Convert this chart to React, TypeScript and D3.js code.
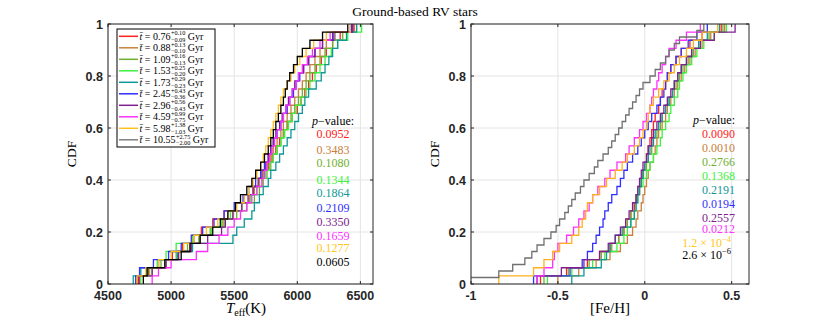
import { useEffect, useRef } from 'react'
import * as d3 from 'd3'

const W = 830
const H = 323

const AGE_MEAN = ['0.76', '0.88', '1.09', '1.53', '1.73', '2.45', '2.96', '4.59', '5.98', '10.55']
const AGE_UP = ['+0.10', '+0.13', '+0.16', '+0.25', '+0.29', '+0.43', '+0.56', '+0.99', '+1.38', '+2.75']
const AGE_DOWN = ['\u22120.09', '\u22120.10', '\u22120.13', '\u22120.20', '\u22120.23', '\u22120.36', '\u22120.43', '\u22120.75', '\u22121.03', '\u22122.00']

const COLORS = ['#ff2020', '#c8803a', '#70b030', '#40f040', '#109898', '#3030ff', '#802090', '#ff30ff', '#ffc020', '#808080']
const TEFF_COLORS = [...COLORS.slice(0, 9), '#000000']
const FEH_COLORS = [...COLORS.slice(0, 8), '#ffb020', '#707070']
const PV_COLORS = [...COLORS.slice(0, 8), '#ffc820', '#000000']

const CDF_TICKS = [0, 0.2, 0.4, 0.6, 0.8, 1]
const TEFF_TICKS = [4500, 5000, 5500, 6000, 6500]
const FEH_TICKS = [-1, -0.5, 0, 0.5]

const TEFF_PVALUES = ['0.0952', '0.3483', '0.1080', '0.1344', '0.1864', '0.2109', '0.3350', '0.1659', '0.1277', '0.0605']
const FEH_PVALUES = ['0.0090', '0.0010', '0.2766', '0.1368', '0.2191', '0.0194', '0.2557', '0.0212', '1.2 \u00d7 10', '2.6 \u00d7 10']
const FEH_PV_EXP = ['', '', '', '', '', '', '', '', '\u22124', '\u22126']

// sorted Teff samples per age bin
const TEFF_SERIES = [
  [4750, 4820, 4900, 5010, 5090, 5180, 5240, 5330, 5420, 5510, 5580, 5650, 5700, 5740, 5770, 5800, 5830, 5860, 5890, 5920, 5960, 6000, 6030, 6060, 6090, 6120, 6150, 6190, 6230, 6280, 6340, 6450],
  [4730, 4850, 4960, 5050, 5150, 5230, 5320, 5410, 5490, 5560, 5620, 5660, 5700, 5730, 5760, 5790, 5810, 5840, 5870, 5890, 5920, 5950, 5980, 6010, 6040, 6070, 6100, 6140, 6180, 6230, 6300, 6440],
  [4720, 4810, 4920, 5040, 5130, 5220, 5310, 5420, 5520, 5600, 5660, 5700, 5730, 5760, 5790, 5810, 5840, 5870, 5890, 5920, 5950, 5980, 6010, 6040, 6070, 6100, 6140, 6180, 6220, 6280, 6360, 6470],
  [4760, 4830, 4890, 4960, 5040, 5170, 5320, 5400, 5470, 5560, 5630, 5680, 5720, 5750, 5780, 5810, 5840, 5870, 5900, 5930, 5960, 5990, 6030, 6070, 6100, 6140, 6180, 6220, 6270, 6320, 6400, 6510],
  [4700, 4760, 4900, 5050, 5170, 5490, 5520, 5580, 5640, 5660, 5700, 5730, 5770, 5790, 5830, 5860, 5890, 5920, 5950, 5980, 6010, 6040, 6060, 6090, 6150, 6190, 6220, 6250, 6280, 6320, 6390, 6470],
  [4720, 4750, 4860, 4980, 5080, 5160, 5250, 5340, 5420, 5500, 5570, 5620, 5670, 5710, 5740, 5770, 5790, 5810, 5840, 5870, 5890, 5920, 5940, 5970, 5990, 6020, 6050, 6090, 6140, 6200, 6290, 6430],
  [4740, 4850, 4960, 5060, 5160, 5290, 5400, 5430, 5490, 5560, 5610, 5650, 5690, 5720, 5750, 5770, 5790, 5810, 5830, 5860, 5880, 5910, 5930, 5960, 5980, 6010, 6050, 6090, 6140, 6200, 6280, 6440],
  [4850, 4900, 5000, 5200, 5290, 5380, 5450, 5500, 5550, 5600, 5640, 5680, 5720, 5740, 5760, 5780, 5800, 5820, 5840, 5870, 5890, 5910, 5940, 5960, 5990, 6010, 6040, 6080, 6120, 6180, 6260, 6420],
  [4730, 4800, 4900, 5000, 5100, 5180, 5280, 5370, 5450, 5520, 5580, 5620, 5650, 5680, 5710, 5730, 5750, 5770, 5790, 5810, 5830, 5850, 5870, 5890, 5920, 5950, 5980, 6020, 6070, 6130, 6230, 6420],
  [4780, 4810, 4950, 5080, 5150, 5230, 5330, 5390, 5450, 5510, 5550, 5600, 5640, 5670, 5710, 5740, 5770, 5790, 5810, 5830, 5850, 5870, 5890, 5905, 5920, 5940, 5970, 6000, 6040, 6100, 6200, 6400],
]

// sorted [Fe/H] samples per age bin
const FEH_SERIES = [
  [-0.60, -0.45, -0.33, -0.26, -0.20, -0.15, -0.12, -0.10, -0.08, -0.06, -0.05, -0.03, -0.02, -0.01, 0.00, 0.01, 0.02, 0.03, 0.04, 0.05, 0.06, 0.08, 0.09, 0.10, 0.12, 0.13, 0.15, 0.18, 0.21, 0.26, 0.33, 0.44],
  [-0.50, -0.38, -0.28, -0.20, -0.14, -0.10, -0.07, -0.05, -0.04, -0.02, -0.01, 0.00, 0.01, 0.02, 0.03, 0.05, 0.06, 0.07, 0.08, 0.10, 0.12, 0.13, 0.15, 0.17, 0.19, 0.21, 0.23, 0.26, 0.29, 0.33, 0.38, 0.46],
  [-0.58, -0.44, -0.32, -0.25, -0.19, -0.15, -0.12, -0.10, -0.08, -0.07, -0.05, -0.04, -0.02, -0.01, 0.01, 0.02, 0.04, 0.05, 0.07, 0.09, 0.10, 0.12, 0.14, 0.16, 0.18, 0.20, 0.22, 0.25, 0.28, 0.32, 0.37, 0.45],
  [-0.56, -0.42, -0.30, -0.23, -0.16, -0.12, -0.10, -0.08, -0.06, -0.05, -0.04, -0.03, -0.01, 0.01, 0.03, 0.05, 0.07, 0.09, 0.10, 0.12, 0.14, 0.15, 0.17, 0.19, 0.20, 0.22, 0.24, 0.27, 0.30, 0.34, 0.40, 0.47],
  [-0.42, -0.35, -0.25, -0.22, -0.20, -0.17, -0.13, -0.08, -0.06, -0.05, -0.04, -0.03, -0.02, -0.01, 0.00, 0.02, 0.03, 0.05, 0.06, 0.08, 0.10, 0.12, 0.14, 0.16, 0.17, 0.19, 0.21, 0.24, 0.27, 0.31, 0.36, 0.43],
  [-0.64, -0.43, -0.36, -0.33, -0.30, -0.28, -0.26, -0.24, -0.23, -0.21, -0.19, -0.16, -0.14, -0.12, -0.10, -0.07, -0.04, -0.02, 0.00, 0.02, 0.04, 0.07, 0.09, 0.11, 0.12, 0.13, 0.15, 0.18, 0.21, 0.25, 0.30, 0.36],
  [-0.62, -0.48, -0.35, -0.26, -0.21, -0.17, -0.14, -0.11, -0.09, -0.07, -0.05, -0.04, -0.03, -0.02, -0.01, 0.01, 0.02, 0.04, 0.05, 0.07, 0.09, 0.11, 0.13, 0.15, 0.17, 0.19, 0.21, 0.24, 0.27, 0.32, 0.40, 0.52],
  [-0.62, -0.58, -0.53, -0.52, -0.50, -0.45, -0.41, -0.38, -0.35, -0.32, -0.30, -0.27, -0.23, -0.20, -0.16, -0.11, -0.09, -0.06, -0.03, -0.01, 0.01, 0.03, 0.04, 0.05, 0.07, 0.08, 0.10, 0.12, 0.14, 0.18, 0.24, 0.32],
  [-0.84, -0.64, -0.58, -0.53, -0.49, -0.42, -0.38, -0.36, -0.34, -0.33, -0.30, -0.26, -0.22, -0.17, -0.13, -0.10, -0.06, -0.03, -0.01, 0.01, 0.02, 0.03, 0.05, 0.08, 0.11, 0.14, 0.17, 0.20, 0.24, 0.28, 0.33, 0.42],
  [-1.05, -0.84, -0.76, -0.69, -0.65, -0.62, -0.58, -0.54, -0.51, -0.49, -0.46, -0.44, -0.42, -0.40, -0.37, -0.35, -0.32, -0.29, -0.27, -0.24, -0.21, -0.19, -0.17, -0.15, -0.13, -0.11, -0.09, -0.07, -0.05, -0.03, -0.01, 0.03, 0.06, 0.09, 0.12, 0.14, 0.17, 0.20, 0.30, 0.34],
]

const SERIF = '"Liberation Serif", "Times New Roman", serif'
const SANS = '"Liberation Sans", Arial, sans-serif'

type Panel = {
  id: string
  left: number
  right: number
  domain: [number, number]
  ticks: number[]
  series: number[][]
  colors: string[]
}

const TOP = 24
const BOTTOM = 284

function drawPanel(svg: d3.Selection<SVGSVGElement, unknown, null, undefined>, p: Panel) {
  const x = d3.scaleLinear().domain(p.domain).range([p.left, p.right])
  const y = d3.scaleLinear().domain([0, 1]).range([BOTTOM, TOP])

  svg.append('rect')
    .attr('x', p.left).attr('y', TOP)
    .attr('width', p.right - p.left).attr('height', BOTTOM - TOP)
    .attr('fill', '#fff')

  // grid
  const grid = svg.append('g').attr('stroke', '#e4e4e4').attr('stroke-width', 1)
  p.ticks.forEach((t) => {
    grid.append('line').attr('x1', x(t)).attr('x2', x(t)).attr('y1', TOP).attr('y2', BOTTOM)
  })
  CDF_TICKS.forEach((t) => {
    grid.append('line').attr('x1', p.left).attr('x2', p.right).attr('y1', y(t)).attr('y2', y(t))
  })

  svg.append('clipPath').attr('id', p.id)
    .append('rect')
    .attr('x', p.left).attr('y', TOP - 2)
    .attr('width', p.right - p.left).attr('height', BOTTOM - TOP + 2)

  const line = d3.line<[number, number]>()
    .x((d) => x(d[0]))
    .y((d) => y(d[1]))
    .curve(d3.curveStepAfter)

  const lines = svg.append('g').attr('clip-path', `url(#${p.id})`)
  p.series.forEach((vals, i) => {
    const n = vals.length
    const pts: [number, number][] = [[vals[0], 0], ...vals.map((v, k) => [v, (k + 1) / n] as [number, number])]
    lines.append('path')
      .attr('d', line(pts))
      .attr('fill', 'none')
      .attr('stroke', p.colors[i])
      .attr('stroke-width', 1.3)
  })

  // box + ticks
  svg.append('rect')
    .attr('x', p.left).attr('y', TOP)
    .attr('width', p.right - p.left).attr('height', BOTTOM - TOP)
    .attr('fill', 'none').attr('stroke', '#262626').attr('stroke-width', 1)

  const tk = svg.append('g').attr('stroke', '#262626').attr('stroke-width', 1)
  p.ticks.forEach((t) => {
    tk.append('line').attr('x1', x(t)).attr('x2', x(t)).attr('y1', BOTTOM).attr('y2', BOTTOM - 3)
    tk.append('line').attr('x1', x(t)).attr('x2', x(t)).attr('y1', TOP).attr('y2', TOP + 3)
  })
  CDF_TICKS.forEach((t) => {
    tk.append('line').attr('x1', p.left).attr('x2', p.left + 3).attr('y1', y(t)).attr('y2', y(t))
    tk.append('line').attr('x1', p.right).attr('x2', p.right - 3).attr('y1', y(t)).attr('y2', y(t))
  })

  const labels = svg.append('g')
    .attr('font-family', SANS).attr('font-weight', 'bold').attr('font-size', 12.5).attr('fill', '#262626')
  p.ticks.forEach((t) => {
    labels.append('text')
      .attr('x', x(t)).attr('y', BOTTOM + 16)
      .attr('text-anchor', 'middle')
      .text(String(t))
  })
  CDF_TICKS.forEach((t) => {
    labels.append('text')
      .attr('x', p.left - 5).attr('y', y(t))
      .attr('dy', '0.36em')
      .attr('text-anchor', 'end')
      .text(String(t))
  })

  svg.append('text')
    .attr('transform', `translate(${p.left - 32},${(TOP + BOTTOM) / 2}) rotate(-90)`)
    .attr('text-anchor', 'middle')
    .attr('font-family', SERIF).attr('font-size', 13.5)
    .text('CDF')

  return { x, y }
}

export default function App() {
  const svgRef = useRef<SVGSVGElement>(null)

  useEffect(() => {
    if (!svgRef.current) return
    const svg = d3.select(svgRef.current)
    svg.selectAll('*').remove()

    svg.append('text')
      .attr('x', 415).attr('y', 16)
      .attr('text-anchor', 'middle')
      .attr('font-family', SERIF).attr('font-size', 13.5)
      .text('Ground-based RV stars')

    drawPanel(svg, {
      id: 'clip-teff', left: 108, right: 373, domain: [4500, 6600],
      ticks: TEFF_TICKS, series: TEFF_SERIES, colors: TEFF_COLORS,
    })
    drawPanel(svg, {
      id: 'clip-feh', left: 471, right: 749, domain: [-1, 0.6],
      ticks: FEH_TICKS, series: FEH_SERIES, colors: FEH_COLORS,
    })

    // x labels
    const tx = svg.append('text')
      .attr('x', 246).attr('y', 313)
      .attr('text-anchor', 'middle')
      .attr('font-family', SERIF).attr('font-size', 15)
    tx.append('tspan').attr('font-style', 'italic').text('T')
    tx.append('tspan').attr('font-size', 10).attr('dy', 3).text('eff')
    tx.append('tspan').attr('dy', -3).text('(K)')

    svg.append('text')
      .attr('x', 610).attr('y', 313)
      .attr('text-anchor', 'middle')
      .attr('font-family', SERIF).attr('font-size', 15)
      .text('[Fe/H]')

    // p-values, left panel
    const pvL = svg.append('g').attr('font-family', SERIF).attr('font-size', 12).attr('text-anchor', 'middle')
    const hL = pvL.append('text').attr('x', 333).attr('y', 125)
    hL.append('tspan').attr('font-style', 'italic').text('p')
    hL.append('tspan').text('\u2212value:')
    const leftY = [138, 154, 167, 184, 197, 212, 226, 240, 252, 266]
    TEFF_PVALUES.forEach((v, i) => {
      pvL.append('text').attr('x', 333).attr('y', leftY[i]).attr('fill', PV_COLORS[i]).text(v)
    })

    // p-values, right panel
    const pvR = svg.append('g').attr('font-family', SERIF).attr('font-size', 12).attr('text-anchor', 'end')
    const hR = pvR.append('text').attr('x', 735).attr('y', 124)
    hR.append('tspan').attr('font-style', 'italic').text('p')
    hR.append('tspan').text('\u2212value:')
    const rightY = [138, 152, 166, 180, 194, 208, 222, 233, 247, 259]
    FEH_PVALUES.forEach((v, i) => {
      const t = pvR.append('text').attr('x', FEH_PV_EXP[i] ? 731 : 735).attr('y', rightY[i]).attr('fill', PV_COLORS[i])
      t.append('tspan').text(v)
      if (FEH_PV_EXP[i]) {
        t.append('tspan').attr('font-size', 8.5).attr('dy', -5).text(FEH_PV_EXP[i])
      }
    })

    // legend: one text element per row, scripts stacked with tspans
    const lg = svg.append('g')
    lg.append('rect')
      .attr('x', 117).attr('y', 29).attr('width', 98).attr('height', 118)
      .attr('fill', '#fff').attr('stroke', '#000').attr('stroke-width', 1)
    AGE_MEAN.forEach((m, i) => {
      const cy = 36.3 + i * 11.5
      lg.append('line')
        .attr('x1', 119).attr('x2', 138).attr('y1', cy).attr('y2', cy)
        .attr('stroke', COLORS[i]).attr('stroke-width', 1.5)
      const row = lg.append('text')
        .attr('x', 139.5).attr('y', cy + 3.5)
        .attr('font-family', SERIF).attr('font-size', 10)
      row.append('tspan').attr('font-style', 'italic').text('t\u0304')
      row.append('tspan').text(` = ${m}`)
      const w = (row.node() as SVGTextElement).getComputedTextLength()
      const sx = 139.5 + w + 0.5
      const sup = row.append('tspan')
        .attr('x', sx).attr('y', cy - 1.2)
        .attr('font-size', 6.2)
        .text(AGE_UP[i])
      const sub = row.append('tspan')
        .attr('x', sx).attr('y', cy + 5.2)
        .attr('font-size', 6.2)
        .text(AGE_DOWN[i])
      const sw = Math.max(
        (sup.node() as SVGTSpanElement).getComputedTextLength(),
        (sub.node() as SVGTSpanElement).getComputedTextLength(),
      )
      row.append('tspan')
        .attr('x', sx + sw + 2.5).attr('y', cy + 3.5)
        .text('Gyr')
    })
  }, [])

  return (
    <svg
      ref={svgRef}
      width={W}
      height={H}
      style={{ position: 'absolute', left: 0, top: 0, background: '#fff' }}
    />
  )
}
